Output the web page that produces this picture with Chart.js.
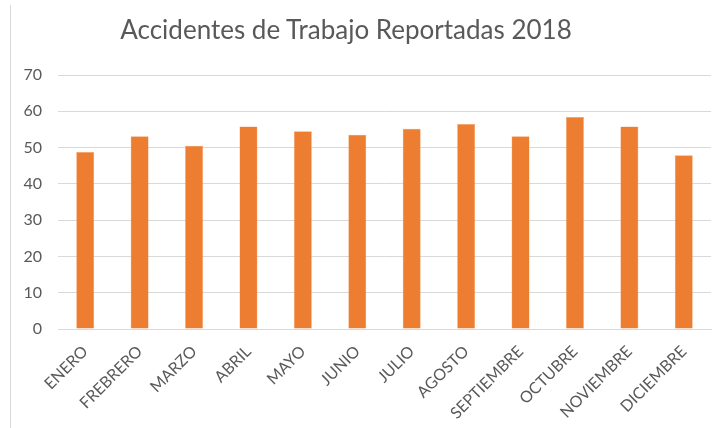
<!DOCTYPE html>
<html>
<head>
<meta charset="utf-8">
<script src="https://cdn.jsdelivr.net/npm/chart.js@4/dist/chart.umd.min.js"></script>
<style>
  html, body { margin: 0; padding: 0; background: #ffffff; }
  #wrap { position: relative; width: 719px; height: 428px; }
  #frame { position: absolute; left: 10px; top: 5px; bottom: 0; border-left: 1px solid #d9d9d9; }
  #title { position: absolute; left: 46px; width: 600px; top: 16px; text-align: center;
           font-family: Lato, "Open Sans", sans-serif; font-size: 26px; line-height: 26px; color: #595959; }
</style>
</head>
<body>
<div id="wrap">
  <div id="frame"></div>
  <div id="title"></div>
  <canvas id="c" width="719" height="428"></canvas>
</div>
<script>
const titleText = 'Accidentes de Trabajo Reportadas 2018';
const categories = ['ENERO', 'FREBRERO', 'MARZO', 'ABRIL', 'MAYO', 'JUNIO', 'JULIO', 'AGOSTO', 'SEPTIEMBRE', 'OCTUBRE', 'NOVIEMBRE', 'DICIEMBRE'];
const accidentes = [48.8, 53.1, 50.5, 55.8, 54.5, 53.5, 55.2, 56.5, 53.1, 58.4, 55.8, 47.9];
const yTicks = [0, 10, 20, 30, 40, 50, 60, 70];

document.getElementById('title').textContent = titleText;

const fontFamily = 'Lato, "Open Sans", sans-serif';

new Chart(document.getElementById('c'), {
  type: 'bar',
  data: {
    labels: categories,
    datasets: [{
      label: 'Accidentes',
      data: accidentes,
      backgroundColor: '#ED7D31',
      borderColor: '#F4A36E',
      borderWidth: 0.5,
      categoryPercentage: 1.0,
      barPercentage: 0.33
    }]
  },
  options: {
    responsive: false,
    animation: false,
    layout: { padding: { left: 0, right: 8, top: 75, bottom: 0 } },
    plugins: {
      legend: { display: false },
      tooltip: { enabled: false },
      title: { display: false }
    },
    scales: {
      x: {
        afterFit: (scale) => { scale.paddingLeft = 0; scale.paddingRight = 0; scale.height = 99; },
        grid: { display: false, drawTicks: false },
        border: { display: true, color: '#d9d9d9', width: 1 },
        ticks: {
          autoSkip: false,
          minRotation: 45,
          maxRotation: 45,
          color: '#595959',
          padding: 13,
          font: { family: fontFamily, size: 16 }
        }
      },
      y: {
        min: 0,
        max: 70,
        afterFit: (scale) => { scale.width = 58; scale.paddingTop = 0; scale.paddingBottom = 0; },
        afterBuildTicks: (axis) => { axis.ticks = yTicks.map(v => ({ value: v })); },
        grid: { color: '#d9d9d9', drawTicks: false },
        border: { display: false },
        ticks: {
          color: '#595959',
          padding: 16,
          font: { family: fontFamily, size: 16 }
        }
      }
    }
  }
});
</script>
</body>
</html>
